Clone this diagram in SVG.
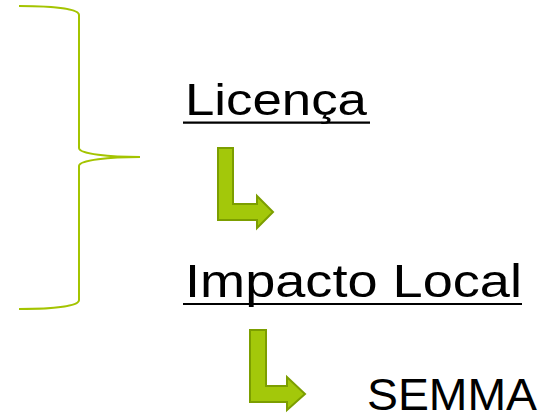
<svg xmlns="http://www.w3.org/2000/svg" width="542" height="420" viewBox="0 0 542 420">
<style>
.t{font-family:"Liberation Sans","DejaVu Sans",sans-serif;fill:#000;}
.ul{stroke:#000;stroke-width:2.2;}
.arr{fill:#A3C80A;stroke:#7C9E00;stroke-width:2;stroke-linejoin:miter;}
.brace{fill:none;stroke:#A4C400;stroke-width:2;}
</style>
<rect width="542" height="420" fill="#fff"/>
<g id="brace">
<path class="brace" d="M19,6 C55,6 79,9 79,15 L79,148 C79,154 110,157 140,157 C110,157 79,160 79,166 L79,300 C79,306 55,309 19,309"/>
</g>
<g id="licenca">
<text class="t" x="185" y="115" font-size="44" textLength="182" lengthAdjust="spacingAndGlyphs">Licença</text>
<line class="ul" x1="183" y1="122.7" x2="370" y2="122.7"/>
</g>
<g id="impacto">
<text class="t" x="185" y="297" font-size="46" textLength="337" lengthAdjust="spacingAndGlyphs">Impacto Local</text>
<line class="ul" x1="183" y1="304" x2="522" y2="304"/>
</g>
<g id="semma">
<text class="t" x="367" y="410" font-size="44" textLength="170" lengthAdjust="spacingAndGlyphs">SEMMA</text>
</g>
<g id="connectors">
<path class="arr" d="M218,148 L233,148 L233,204 L257,204 L257,196 L273,212 L257,228 L257,220 L218,220 Z"/>
<path class="arr" d="M250,330 L266,330 L266,386 L287,386 L287,377 L305,394 L287,410 L287,402 L250,402 Z"/>
</g>
</svg>
